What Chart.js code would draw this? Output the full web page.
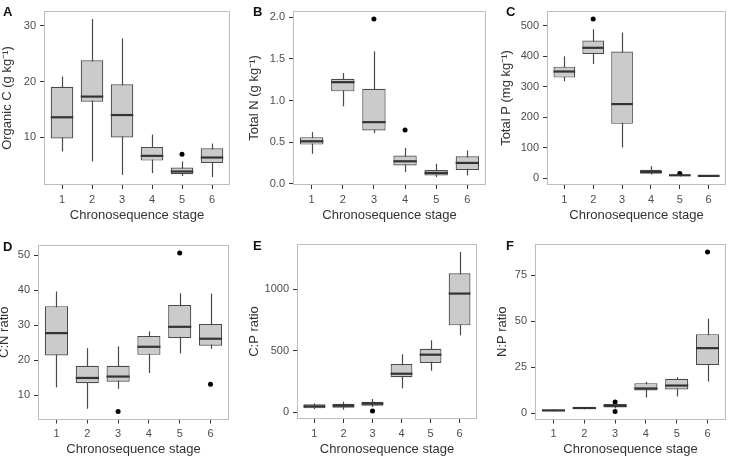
<!DOCTYPE html>
<html>
<head>
<meta charset="utf-8">
<script src="https://cdn.jsdelivr.net/npm/chart.js@4.4.1/dist/chart.umd.min.js"></script>
<style>
  body { margin: 0; background: #fff; }
  #fig { position: relative; width: 730px; height: 458px; overflow: hidden; }
  #fig canvas { position: absolute; }
  .tag { position: absolute; font: bold 13px 'Liberation Sans', Arial, sans-serif; line-height: 13px; color: #111; }
</style>
</head>
<body>
<div id="fig">
  <canvas id="chart-a" width="240" height="223" style="left:0px;top:0px"></canvas>
  <canvas id="chart-b" width="243" height="223" style="left:247px;top:0px"></canvas>
  <canvas id="chart-c" width="231" height="223" style="left:499px;top:0px"></canvas>
  <canvas id="chart-d" width="240" height="229" style="left:-3px;top:228px"></canvas>
  <canvas id="chart-e" width="243" height="229" style="left:247px;top:228px"></canvas>
  <canvas id="chart-f" width="235" height="229" style="left:495px;top:228px"></canvas>
  <div class="tag" style="left:3px;top:5px">A</div>
  <div class="tag" style="left:253px;top:5px">B</div>
  <div class="tag" style="left:506px;top:5px">C</div>
  <div class="tag" style="left:3px;top:240px">D</div>
  <div class="tag" style="left:253px;top:239px">E</div>
  <div class="tag" style="left:506px;top:239px">F</div>
</div>
<script>
const stages = ['1', '2', '3', '4', '5', '6'];

// per stage: [lower whisker, Q1, median, Q3, upper whisker]
const organicC = [
  [7.5, 9.8, 13.6, 19.05, 20.9],
  [5.7, 16.4, 17.3, 23.8, 31.2],
  [3.3, 10.0, 14.0, 19.5, 27.7],
  [3.6, 5.85, 6.7, 8.3, 10.5],
  [3.1, 3.4, 3.9, 4.6, 5.7],
  [2.9, 5.4, 6.4, 8.05, 8.9]
];
const organicCOutliers = [[5, 7.0]];
const organicCTicks = [10, 20, 30];

const totalN = [
  [0.36, 0.47, 0.51, 0.56, 0.62],
  [0.93, 1.11, 1.22, 1.26, 1.33],
  [0.61, 0.64, 0.74, 1.14, 1.59],
  [0.14, 0.22, 0.27, 0.34, 0.43],
  [0.08, 0.10, 0.13, 0.165, 0.24],
  [0.10, 0.165, 0.25, 0.33, 0.40]
];
const totalNOutliers = [[3, 1.98], [4, 0.645]];
const totalNTicks = [0, 0.5, 1.0, 1.5, 2.0];

const totalP = [
  [318, 330, 350, 366, 400],
  [375, 408, 428, 452, 489],
  [100, 178, 243, 416, 478],
  [11, 14, 20, 27, 39],
  [5, 7.5, 9, 11, 13],
  [3, 5, 7, 9.5, 10]
];
const totalPOutliers = [[2, 523], [5, 15]];
const totalPTicks = [0, 100, 200, 300, 400, 500];

const cnRatio = [
  [12.3, 21.4, 27.8, 35.5, 39.7],
  [6.2, 13.5, 15.0, 18.5, 23.5],
  [11.9, 13.9, 15.4, 18.5, 24.0],
  [16.4, 21.6, 23.9, 27.0, 28.3],
  [22.0, 26.4, 29.6, 35.8, 39.2],
  [23.3, 24.2, 26.2, 30.4, 39.1]
];
const cnRatioOutliers = [[3, 5.4], [5, 50.7], [6, 13.2]];
const cnRatioTicks = [10, 20, 30, 40, 50];

const cpRatio = [
  [24, 30, 46, 63, 70],
  [19, 35, 51, 68, 84],
  [41, 51, 68, 84, 106],
  [193, 283, 312, 391, 470],
  [337, 399, 467, 516, 584],
  [625, 706, 965, 1130, 1304]
];
const cpRatioOutliers = [[3, 8]];
const cpRatioTicks = [0, 500, 1000];

const npRatio = [
  [1.0, 1.1, 1.5, 1.8, 2.0],
  [2.1, 2.3, 2.8, 3.1, 3.3],
  [2.6, 3.1, 4.0, 5.0, 5.6],
  [8.5, 12.3, 13.4, 16.3, 17.0],
  [9.1, 12.9, 15.0, 18.7, 19.5],
  [17.2, 26.1, 35.3, 42.9, 51.3]
];
const npRatioOutliers = [[3, 6.1], [3, 0.9], [6, 87.5]];
const npRatioTicks = [0, 25, 50, 75];

Chart.defaults.font.family = "'Liberation Sans', Arial, sans-serif";
Chart.defaults.animation = false;

// whiskers behind the boxes, medians on top, grey panel frame
function boxPlugin(stats) {
  return {
    id: 'boxPlot',
    beforeDatasetsDraw(chart) {
      const { ctx, scales: { x, y } } = chart;
      ctx.save();
      ctx.strokeStyle = '#4a4a4a';
      ctx.lineWidth = 1.2;
      stats.forEach((s, i) => {
        const px = Math.round(x.getPixelForValue(i + 1)) + 0.5;
        ctx.beginPath();
        ctx.moveTo(px, y.getPixelForValue(s[0]));
        ctx.lineTo(px, y.getPixelForValue(s[4]));
        ctx.stroke();
      });
      ctx.restore();
    },
    afterDatasetsDraw(chart) {
      const { ctx, scales: { y } } = chart;
      const bars = chart.getDatasetMeta(0).data;
      ctx.save();
      ctx.strokeStyle = '#333';
      ctx.lineWidth = 2.2;
      stats.forEach((s, i) => {
        const bar = bars[i];
        const py = y.getPixelForValue(s[2]);
        ctx.beginPath();
        ctx.moveTo(bar.x - bar.width / 2, py);
        ctx.lineTo(bar.x + bar.width / 2, py);
        ctx.stroke();
      });
      ctx.restore();
    },
    afterDraw(chart) {
      const { ctx, chartArea: a } = chart;
      ctx.save();
      ctx.strokeStyle = '#bdbdbd';
      ctx.lineWidth = 1;
      ctx.strokeRect(Math.round(a.left) + 0.5, Math.round(a.top) + 0.5,
        Math.round(a.right - a.left) - 1, Math.round(a.bottom - a.top) - 1);
      ctx.restore();
    }
  };
}

function drawPanel(id, stats, outliers, tickValues, digits, yTitle, yWidth, xHeight, padding) {
  const values = stats.flat().concat(outliers.map(o => o[1]));
  const lo = Math.min(...values), hi = Math.max(...values);
  const pad = (hi - lo) * 0.05;

  new Chart(document.getElementById(id), {
    type: 'bar',
    data: {
      datasets: [
        {
          type: 'bar',
          data: stats.map((s, i) => ({ x: i + 1, y: [s[1], s[3]] })),
          backgroundColor: '#cbcbcb',
          borderColor: '#4a4a4a',
          borderWidth: 1.2,
          borderSkipped: false,
          categoryPercentage: 1,
          barPercentage: 0.75
        },
        {
          type: 'scatter',
          data: outliers.map(o => ({ x: o[0], y: o[1] })),
          pointRadius: 2.5,
          pointBackgroundColor: '#000',
          pointBorderWidth: 0
        }
      ]
    },
    options: {
      responsive: false,
      layout: { padding: padding },
      plugins: { legend: { display: false }, tooltip: { enabled: false } },
      scales: {
        x: {
          type: 'linear',
          min: 0.4,
          max: 6.6,
          offset: false,
          afterBuildTicks: s => { s.ticks = stages.map((_, i) => ({ value: i + 1 })); },
          afterFit: s => { s.height = xHeight; },
          grid: { offset: false, drawOnChartArea: false, color: '#333', tickLength: 4 },
          border: { display: false },
          ticks: {
            padding: 4,
            color: '#4d4d4d',
            font: { size: 11 },
            maxRotation: 0,
            callback: v => stages[v - 1]
          },
          title: { display: true, text: 'Chronosequence stage', color: '#333', font: { size: 13 }, padding: 0 }
        },
        y: {
          min: lo - pad,
          max: hi + pad,
          beginAtZero: false,
          afterBuildTicks: s => { s.ticks = tickValues.map(v => ({ value: v })); },
          afterFit: s => { s.width = yWidth; },
          grid: { drawOnChartArea: false, color: '#333', tickLength: 4 },
          border: { display: false },
          ticks: {
            padding: 4,
            color: '#4d4d4d',
            font: { size: 11 },
            callback: v => v.toFixed(digits)
          },
          title: { display: true, text: yTitle, color: '#333', font: { size: 13 }, padding: 0 }
        }
      }
    },
    plugins: [boxPlugin(stats)]
  });
}

drawPanel('chart-a', organicC, organicCOutliers, organicCTicks, 0, 'Organic C (g kg\u207B\u00B9)',
  44, 38, { top: 11, right: 10, left: 0, bottom: 0 });
drawPanel('chart-b', totalN, totalNOutliers, totalNTicks, 1, 'Total N (g kg\u207B\u00B9)',
  46, 38, { top: 11, right: 4, left: 0, bottom: 0 });
drawPanel('chart-c', totalP, totalPOutliers, totalPTicks, 0, 'Total P (mg kg\u207B\u00B9)',
  48, 38, { top: 11, right: 4, left: 0, bottom: 0 });
drawPanel('chart-d', cnRatio, cnRatioOutliers, cnRatioTicks, 0, 'C:N ratio',
  41, 37.5, { top: 17, right: 8, left: 0, bottom: 0 });
drawPanel('chart-e', cpRatio, cpRatioOutliers, cpRatioTicks, 0, 'C:P ratio',
  50, 38, { top: 16, right: 13, left: 0, bottom: 0 });
drawPanel('chart-f', npRatio, npRatioOutliers, npRatioTicks, 0, 'N:P ratio',
  40, 37.5, { top: 16, right: 3, left: 0, bottom: 0 });
</script>
</body>
</html>
